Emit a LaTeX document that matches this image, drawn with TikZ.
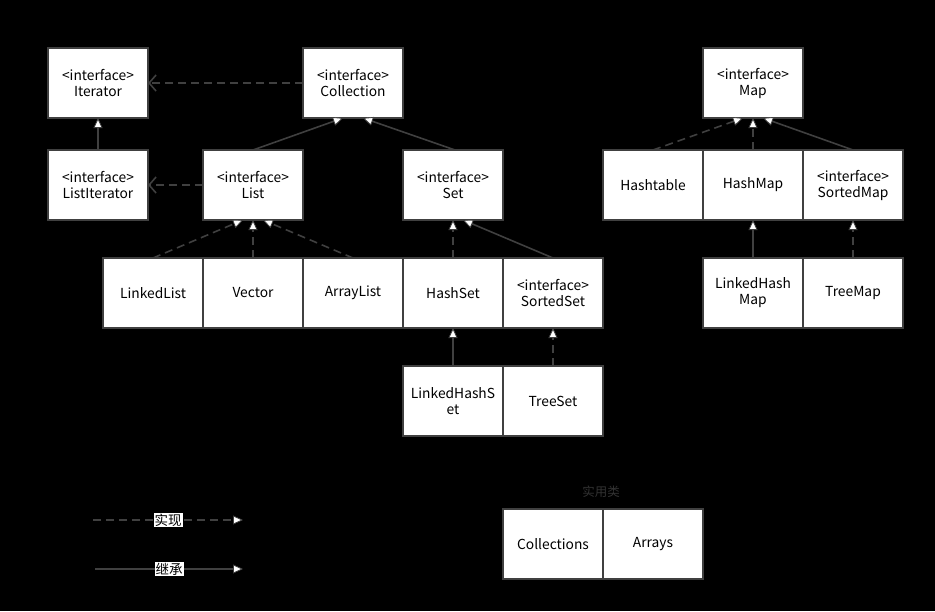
\documentclass[tikz,border=0pt]{standalone}
\usepackage{fontspec}
\setmainfont{Noto Sans CJK SC}
\usepackage{tikz}
\usetikzlibrary{positioning, calc, arrows.meta, backgrounds}
\definecolor{linegray}{RGB}{64,64,64}
\definecolor{notegray}{RGB}{50,50,50}

\begin{document}
\begin{tikzpicture}[
        x=1pt, y=1pt,
        node distance=0pt,
        cls/.style={rectangle, draw=linegray, fill=white, line width=1.6pt, outer sep=0pt, minimum width=100pt, minimum height=70pt, align=center, font=\fontsize{13.8}{16}\selectfont, inner sep=2pt},
        inherit/.style={draw=linegray, line width=1.6pt, -{Triangle[length=10pt, width=9pt, fill=white, line width=0.8pt]}},
        impl/.style={inherit, dash pattern=on 8pt off 5pt},
        uses/.style={draw=linegray, line width=1.6pt, dash pattern=on 8pt off 5pt, -{Straight Barb[length=7pt, width=16pt, line width=1.6pt]}},
        tag/.style={fill=white, inner sep=1pt, font=\fontsize{13.5}{15}\selectfont}
    ]
        % canvas
        \fill[black] (0,0) rectangle (935,-611);
        \useasboundingbox (0,0) rectangle (935,-611);

        % top row
        \node[cls] (Iter) at (98,-83) {<interface>\\Iterator};
        \node[cls] (Coll) at (353,-83) {<interface>\\Collection};
        \node[cls] (Map) at (753,-83) {<interface>\\Map};

        % second row
        \node[cls] (LIter) at (98,-185) {<interface>\\ListIterator};
        \node[cls] (List) at (253,-185) {<interface>\\List};
        \node[cls] (Set) at (453,-185) {<interface>\\Set};
        \node[cls] (Htab) at (653,-185) {Hashtable};
        \node[cls, right=of Htab] (HMap) {HashMap};
        \node[cls, right=of HMap] (SMap) {<interface>\\SortedMap};

        % third row
        \node[cls] (LList) at (153,-293) {LinkedList};
        \node[cls, right=of LList] (Vec) {Vector};
        \node[cls, right=of Vec] (AList) {ArrayList};
        \node[cls, right=of AList] (HSet) {HashSet};
        \node[cls, right=of HSet] (SSet) {<interface>\\SortedSet};
        \node[cls] (LHMap) at (753,-293) {LinkedHash\\Map};
        \node[cls, right=of LHMap] (TMap) {TreeMap};

        % fourth row
        \node[cls, below=38pt of HSet] (LHSet) {LinkedHashS\\et};
        \node[cls, right=of LHSet] (TSet) {TreeSet};

        % utility classes
        \node[cls] (Colls) at (553,-544) {Collections};
        \node[cls, right=of Colls] (Arrs) {Arrays};
        \node[font=\fontsize{12.5}{14}\selectfont, text=notegray] (Util) at (601,-492) {实用类};

        % dependencies
        \draw[uses] (Coll.west) -- (Iter.east);
        \draw[uses] (List.west) -- (LIter.east);

        % Collection tree
        \draw[inherit] (LIter.north) -- (Iter.south);
        \draw[inherit] (List.north) -- ($(Coll.south)+(-10,0)$);
        \draw[inherit] ($(Set.north)+(2,0)$) -- ($(Coll.south)+(10,0)$);
        \draw[impl] (LList.north) -- ($(List.south)+(-10,0)$);
        \draw[impl] (Vec.north) -- (List.south);
        \draw[impl] (AList.north) -- ($(List.south)+(10,0)$);
        \draw[impl] (HSet.north) -- (Set.south);
        \draw[inherit] (SSet.north) -- ($(Set.south)+(10,0)$);
        \draw[inherit] (LHSet.north) -- (HSet.south);
        \draw[impl] (TSet.north) -- (SSet.south);

        % Map tree
        \draw[impl] (Htab.north) -- ($(Map.south)+(-10,0)$);
        \draw[impl] (HMap.north) -- (Map.south);
        \draw[inherit] (SMap.north) -- ($(Map.south)+(10,0)$);
        \draw[inherit] (LHMap.north) -- (HMap.south);
        \draw[impl] (TMap.north) -- (SMap.south);

        % legend
        \coordinate (ImplA) at (93,-520);
        \coordinate (ImplB) at (243,-520);
        \coordinate (ExtA) at (95,-569);
        \coordinate (ExtB) at (243,-569);
        \draw[impl] (ImplA) -- node[tag] (ImplTag) {实现} (ImplB);
        \draw[inherit] (ExtA) -- node[tag] (ExtTag) {继承} (ExtB);
    \end{tikzpicture}
\end{document}
